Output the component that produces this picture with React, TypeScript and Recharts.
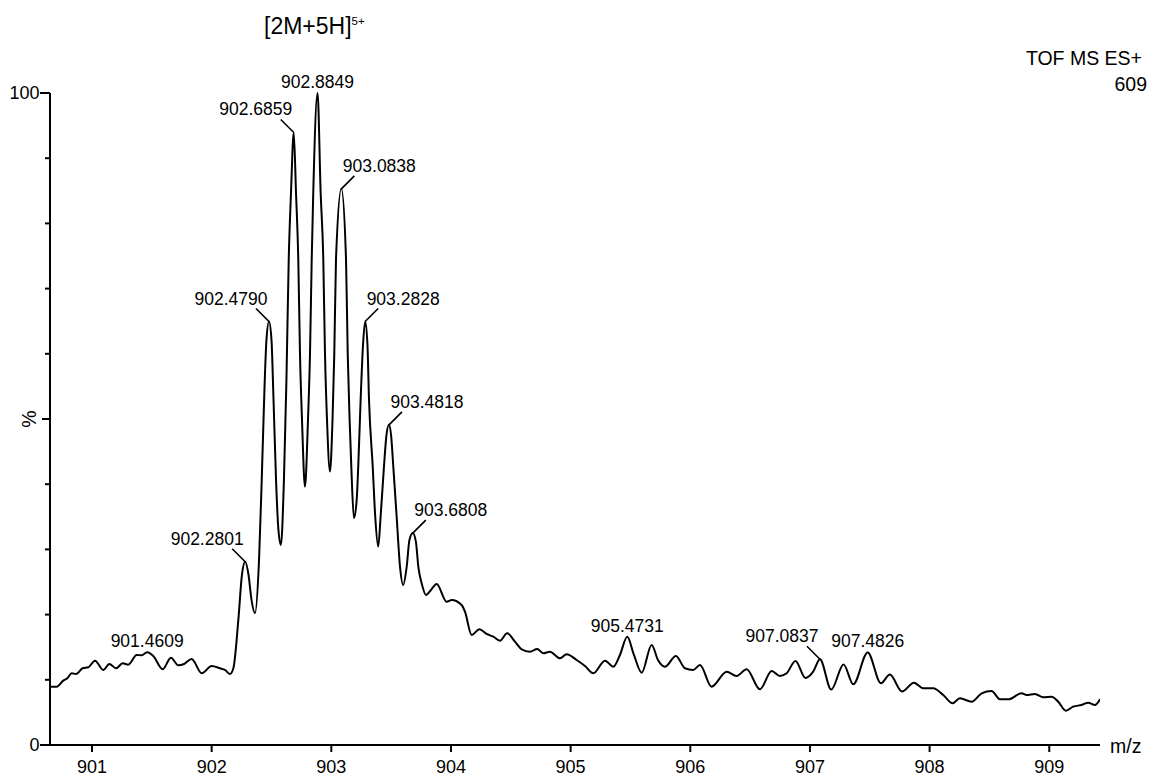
import React from "react";
import { ComposedChart, Line, Scatter, XAxis, YAxis } from "recharts";

const FONT = "'Liberation Sans', Arial, Helvetica, sans-serif";

// continuum trace (m/z, relative intensity %), labelled centroids are merged in below
const traceMz = [
  900.649, 900.705, 900.76, 900.794, 900.83, 900.866, 900.922, 900.969, 901.025, 901.094,
  901.145, 901.201, 901.257, 901.303, 901.374, 901.415, 901.512, 901.591, 901.66, 901.721,
  901.769, 901.833, 901.917, 902.0, 902.07, 902.111, 902.153, 902.182, 902.223, 902.253,
  902.308, 902.333, 902.362, 902.396, 902.421, 902.441, 902.458, 902.5, 902.517, 902.538,
  902.558, 902.579, 902.604, 902.625, 902.644, 902.663, 902.705, 902.724, 902.738, 902.755,
  902.78, 902.805, 902.822, 902.836, 902.849, 902.911, 902.933, 902.947, 902.964, 902.989,
  903.01, 903.025, 903.039, 903.123, 903.137, 903.153, 903.168, 903.189, 903.212, 903.225,
  903.245, 903.265, 903.302, 903.315, 903.346, 903.367, 903.392, 903.412, 903.44, 903.461,
  903.5, 903.518, 903.546, 903.574, 903.601, 903.63, 903.653, 903.707, 903.727, 903.755,
  903.791, 903.833, 903.88, 903.964, 904.006, 904.089, 904.117, 904.173, 904.237, 904.298,
  904.354, 904.409, 904.47, 904.535, 904.591, 904.66, 904.721, 904.771, 904.827, 904.911,
  904.967, 905.05, 905.12, 905.189, 905.287, 905.357, 905.412, 905.529, 905.594, 905.677,
  905.73, 905.788, 905.88, 905.955, 906.025, 906.081, 906.178, 906.304, 906.387, 906.471,
  906.582, 906.68, 906.749, 906.805, 906.879, 906.962, 907.027, 907.178, 907.281, 907.362,
  907.593, 907.668, 907.769, 907.869, 907.947, 908.03, 908.114, 908.192, 908.253, 908.351,
  908.435, 908.518, 908.588, 908.657, 908.769, 908.811, 908.88, 908.95, 909.02, 909.075,
  909.139, 909.2, 909.27, 909.326, 909.382, 909.424,
];
const tracePct = [
  8.95, 8.95, 9.87, 10.23, 11.0, 10.89, 11.77, 11.92, 12.94, 11.51,
  12.43, 11.77, 12.54, 12.32, 13.81, 13.76, 13.66, 11.62, 13.4, 12.23,
  12.43, 13.2, 11.0, 12.12, 11.77, 11.51, 10.89, 11.82, 19.18, 26.09,
  26.09, 22.25, 20.21, 28.39, 42.2, 54.47, 62.14, 62.14, 52.94, 40.66,
  32.99, 30.69, 40.66, 56.01, 74.42, 84.66, 84.66, 74.42, 60.15, 49.87,
  39.63, 49.87, 60.1, 74.42, 84.66, 84.66, 74.42, 60.1, 49.87, 41.94,
  49.87, 60.1, 74.42, 74.42, 60.1, 49.87, 42.2, 34.79, 37.59, 42.7,
  52.94, 61.38, 61.38, 52.94, 42.7, 35.03, 30.43, 35.03, 42.7, 47.57,
  47.41, 42.7, 35.03, 27.36, 24.55, 27.36, 31.46, 31.15, 27.36, 24.81,
  23.02, 23.78, 24.7, 21.99, 22.25, 21.48, 20.45, 16.88, 17.75, 17.03,
  16.62, 16.0, 17.14, 15.85, 14.68, 14.32, 14.73, 14.07, 14.32, 13.3,
  13.92, 13.04, 12.12, 11.0, 12.94, 12.01, 13.81, 13.81, 11.09, 15.34,
  13.04, 12.01, 13.66, 11.77, 11.51, 12.28, 8.95, 11.25, 10.59, 11.62,
  8.55, 11.35, 10.59, 11.0, 12.89, 10.28, 11.25, 8.5, 12.35, 9.31,
  9.47, 10.82, 8.21, 9.56, 8.7, 8.7, 7.67, 6.4, 7.17, 6.64,
  7.93, 8.29, 7.01, 7.01, 7.93, 7.67, 7.83, 7.32, 7.41, 6.64,
  5.26, 5.88, 6.14, 6.49, 6.14, 7.01,
];

// labelled centroid peaks
const peakMz = [
  901.4609, 902.2801, 902.479, 902.6859, 902.8849, 903.0838,
  903.2828, 903.4818, 903.6808, 905.4731, 907.0837, 907.4826,
];
const peakPct = [14.22, 28.1, 64.95, 93.95, 100, 85.3, 64.95, 49.1, 32.5, 16.6, 13.15, 14.2];

const mzTicks = [901, 902, 903, 904, 905, 906, 907, 908, 909];
const pctTicks = [0, 10, 20, 30, 40, 50, 60, 70, 80, 90, 100];

// which way each peak label sits relative to its apex
const labelSide: Record<string, "above" | "left" | "right"> = {
  "902.2801": "left",
  "902.4790": "left",
  "902.6859": "left",
  "903.0838": "right",
  "903.2828": "right",
  "903.4818": "right",
  "903.6808": "right",
  "907.0837": "left",
};

const peakRows = peakMz.map((mz, i) => ({ mz, pct: peakPct[i], label: mz.toFixed(4) }));
const rows = [...traceMz.map((mz, i) => ({ mz, pct: tracePct[i] })), ...peakRows].sort(
  (a, b) => a.mz - b.mz
);

function PeakLabel(props: any) {
  const { cx, cy, payload } = props;
  const side = labelSide[payload.label] ?? "above";
  const txt = { fontSize: 17.5, fontFamily: FONT, fill: "#000" };
  if (side === "above") {
    return (
      <text x={cx} y={cy - 5} textAnchor="middle" {...txt}>
        {payload.label}
      </text>
    );
  }
  const dir = side === "left" ? -1 : 1;
  return (
    <g>
      <line x1={cx} y1={cy} x2={cx + dir * 13} y2={cy - 13} stroke="#000" strokeWidth={1.6} />
      <text x={cx + dir * 1.5} y={cy - 17} textAnchor={side === "left" ? "end" : "start"} {...txt}>
        {payload.label}
      </text>
    </g>
  );
}

function PctTick(props: any) {
  const { x, y, payload } = props;
  const v = payload.value;
  const end = v === 0 || v === 100;
  const len = end ? 10 : v === 50 ? 8 : 5;
  return (
    <g>
      <line x1={x - len} x2={x} y1={y} y2={y} stroke="#000" strokeWidth={2} />
      {end && (
        <text x={x - 10.5} y={y} dy="0.35em" textAnchor="end" fontSize={18} fontFamily={FONT} fill="#000">
          {v}
        </text>
      )}
    </g>
  );
}

export default function App() {
  return (
    <div style={{ position: "absolute", left: 0, top: 0, width: 1153, height: 779, background: "#fff" }}>
      <ComposedChart width={1153} height={779} data={rows} margin={{ top: 93, right: 53, bottom: 0, left: 0 }}>
        <XAxis
          type="number"
          dataKey="mz"
          domain={[900.649, 909.424]}
          ticks={mzTicks}
          allowDataOverflow
          height={34}
          tickSize={7}
          tickMargin={8}
          axisLine={{ stroke: "#000", strokeWidth: 2 }}
          tickLine={{ stroke: "#000", strokeWidth: 2 }}
          tick={{ fill: "#000", fontSize: 18, fontFamily: FONT }}
        />
        <YAxis
          type="number"
          domain={[0, 100]}
          ticks={pctTicks}
          width={50}
          tickSize={0}
          tickMargin={0}
          tickLine={false}
          axisLine={{ stroke: "#000", strokeWidth: 2 }}
          tick={<PctTick />}
        />
        <Line
          type="monotone"
          dataKey="pct"
          stroke="#000"
          strokeWidth={2}
          dot={false}
          activeDot={false}
          isAnimationActive={false}
        />
        <Scatter data={peakRows} dataKey="pct" shape={<PeakLabel />} isAnimationActive={false} />
      </ComposedChart>
      <svg
        width={1153}
        height={779}
        style={{ position: "absolute", left: 0, top: 0, pointerEvents: "none" }}
        fontFamily={FONT}
        fill="#000"
      >
        <text x={264} y={34} fontSize={23}>
          [2M+5H]
          <tspan fontSize={11.5} dy={-9}>
            5+
          </tspan>
        </text>
        <text x={1142} y={65} fontSize={19.5} textAnchor="end">
          TOF MS ES+
        </text>
        <text x={1147} y={90.5} fontSize={19.5} textAnchor="end">
          609
        </text>
        <text x={1110} y={753} fontSize={19.5}>
          m/z
        </text>
        <text x={29} y={419} dy="0.35em" fontSize={19.5} textAnchor="middle" transform="rotate(-90 29 419)">
          %
        </text>
      </svg>
    </div>
  );
}
